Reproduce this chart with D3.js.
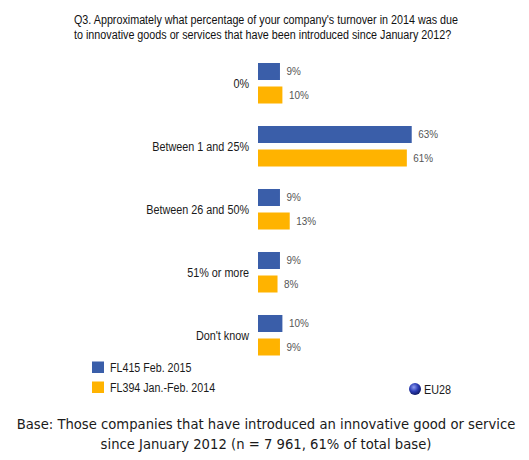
<!DOCTYPE html>
<html>
<head>
<meta charset="utf-8">
<script src="https://cdn.jsdelivr.net/npm/d3@7"></script>
<style>
  body { margin: 0; background: #fff; }
  svg { display: block; }
</style>
</head>
<body>
<svg></svg>
<script>
// data
var categories = ["0%", "Between 1 and 25%", "Between 26 and 50%", "51% or more", "Don't know"];
var seriesNames = ["FL415 Feb. 2015", "FL394 Jan.-Feb. 2014"];
var values2015 = [9, 63, 9, 9, 10];
var values2014 = [10, 61, 13, 8, 9];
var titleLines = [
  "Q3. Approximately what percentage of your company's turnover in 2014 was due",
  "to innovative goods or services that have been introduced since January 2012?"
];
var footLines = [
  "Base: Those companies that have introduced an innovative good or service",
  "since January 2012 (n = 7 961, 61% of total base)"
];

var svgWidth = 529;
var svgHeight = 460;
var colors = ["#3a5ea9", "#ffb300"];
var arial = "Arial, 'Liberation Sans', sans-serif";

var svg = d3.select("svg")
            .attr("width", svgWidth)
            .attr("height", svgHeight);

//the original uses a narrower sans, squeeze text a bit
function condense(sel, k){
  sel.each(function(){
    var w = this.getComputedTextLength();
    d3.select(this).attr("textLength", w * k).attr("lengthAdjust", "spacingAndGlyphs");
  });
}

//rows of data, one per category
var rows = categories.map(function(c, i){
  return {cat: c, vals: [values2015[i], values2014[i]]};
});

//scales
var x = d3.scaleLinear().domain([0, 100]).range([258, 502]);
var y = d3.scaleBand().domain(categories)
          .range([63, 355.5])
          .paddingInner(0.357)
          .paddingOuter(0);
var ySub = d3.scaleBand().domain([0, 1])
             .range([0, y.bandwidth()])
             .paddingInner(0.2766);

//title
svg.append("g").selectAll("text")
   .data(titleLines)
   .enter()
   .append("text")
   .attr("x", 74)
   .attr("y", function(d, i){ return 24 + i * 14.5; })
   .style("font-family", arial)
   .style("font-size", "12px")
   .style("fill", "#111")
   .text(function(d){ return d; })
   .call(condense, 0.896);

//groups
var groups = svg.append("g").selectAll("g")
                .data(rows)
                .enter()
                .append("g")
                .attr("transform", function(d){ return "translate(0," + y(d.cat) + ")"; });

groups.append("text")
      .attr("x", 249)
      .attr("y", y.bandwidth() / 2 + 1)
      .attr("dy", "0.35em")
      .attr("text-anchor", "end")
      .style("font-family", arial)
      .style("font-size", "12px")
      .style("fill", "#1a1a1a")
      .text(function(d){ return d.cat; })
      .call(condense, 0.9);

groups.selectAll("rect")
      .data(function(d){ return d.vals; })
      .enter()
      .append("rect")
      .attr("x", x(0))
      .attr("y", function(d, i){ return ySub(i); })
      .attr("width", function(d){ return x(d) - x(0); })
      .attr("height", ySub.bandwidth())
      .style("fill", function(d, i){ return colors[i]; });

groups.selectAll(".val")
      .data(function(d){ return d.vals; })
      .enter()
      .append("text")
      .attr("class", "val")
      .attr("x", function(d){ return x(d) + 6.5; })
      .attr("y", function(d, i){ return ySub(i) + ySub.bandwidth() / 2; })
      .attr("dy", "0.35em")
      .style("font-family", arial)
      .style("font-size", "11px")
      .style("fill", "#555")
      .text(function(d){ return d + "%"; })
      .call(condense, 0.9);

//legend
var legend = svg.append("g").selectAll("g")
                .data(seriesNames)
                .enter()
                .append("g")
                .attr("transform", function(d, i){ return "translate(92," + (361.5 + i * 20) + ")"; });

legend.append("rect")
      .attr("width", 12)
      .attr("height", 11.5)
      .style("fill", function(d, i){ return colors[i]; });

legend.append("text")
      .attr("x", 18)
      .attr("y", 10)
      .style("font-family", arial)
      .style("font-size", "12px")
      .style("fill", "#1a1a1a")
      .text(function(d){ return d; })
      .call(condense, 0.89);

//EU28 globe
var grad = svg.append("defs").append("radialGradient")
              .attr("id", "globe")
              .attr("cx", "40%").attr("cy", "35%").attr("r", "65%");
grad.append("stop").attr("offset", "0%").attr("stop-color", "#8f9df0");
grad.append("stop").attr("offset", "55%").attr("stop-color", "#2c3db5");
grad.append("stop").attr("offset", "100%").attr("stop-color", "#101a66");

svg.append("circle")
   .attr("cx", 415)
   .attr("cy", 389)
   .attr("r", 6)
   .style("fill", "url(#globe)");

svg.append("text")
   .attr("x", 424)
   .attr("y", 393.5)
   .style("font-family", arial)
   .style("font-size", "12px")
   .style("fill", "#1a1a1a")
   .text("EU28")
   .call(condense, 0.9);

//footer
svg.append("g").selectAll("text")
   .data(footLines)
   .enter()
   .append("text")
   .attr("x", 266)
   .attr("y", function(d, i){ return 428.5 + i * 20; })
   .attr("text-anchor", "middle")
   .style("font-family", "Verdana, 'DejaVu Sans', sans-serif")
   .style("font-size", "13.2px")
   .style("fill", "#1a1a1a")
   .text(function(d){ return d; });
</script>
</body>
</html>
